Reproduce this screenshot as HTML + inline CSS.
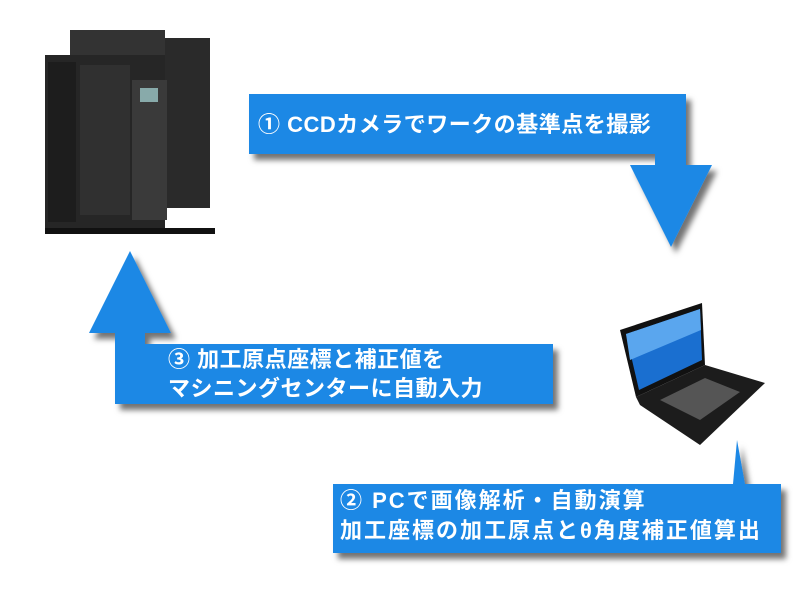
<!DOCTYPE html>
<html><head><meta charset="utf-8"><style>
body{margin:0;width:800px;height:600px;background:#fff;overflow:hidden;position:relative;font-family:"Liberation Sans","Noto Sans CJK JP",sans-serif}
.t{position:absolute;color:#fff;font-weight:bold;font-size:22px;line-height:29px;white-space:nowrap}
svg{position:absolute;left:0;top:0}
</style></head><body>
<svg width="800" height="600">
<defs><filter id="sh" x="-10%" y="-10%" width="130%" height="140%"><feDropShadow dx="5" dy="6" stdDeviation="3" flood-color="#000" flood-opacity="0.55"/></filter></defs>
<g fill="#1e88e5" filter="url(#sh)">
<polygon points="249,94 686,94 686,165 712,165 671,247 630,165 655,165 655,154 249,154"/>
<polygon points="553,344 553,404 115,404 115,333 89,333 130,251 171,333 145,333 145,344"/>
<polygon points="333,484 733,484 737,440 745,484 781,484 781,553 333,553"/>
</g>
<g>
<rect x="160" y="38" width="50" height="170" fill="#2a2a2a"/>
<rect x="70" y="30" width="95" height="30" fill="#333"/>
<rect x="45" y="55" width="120" height="175" fill="#262626"/>
<rect x="48" y="62" width="28" height="160" fill="#1d1d1d"/>
<rect x="80" y="65" width="50" height="150" fill="#303030"/>
<rect x="132" y="80" width="35" height="140" fill="#3a3a3a"/>
<rect x="140" y="88" width="18" height="14" fill="#8aa"/>
<rect x="45" y="228" width="170" height="6" fill="#111"/>
</g>
<g>
<polygon points="620,330 702,303 705,365 636,397" fill="#111"/>
<polygon points="626,334 700,309 702,360 639,390" fill="#1a6fd0"/>
<polygon points="626,334 700,309 701,330 630,360" fill="#5aa6ee"/>
<polygon points="636,397 705,365 765,383 700,445 640,405" fill="#1c1c1c"/>
<polygon points="660,400 705,378 740,392 700,420" fill="#555"/>
</g>
</svg>
<div class="t" style="left:258px;top:110px;letter-spacing:0.5px">① CCDカメラでワークの基準点を撮影</div>
<div class="t" style="left:168px;top:345px;letter-spacing:0.5px">③ 加工原点座標と補正値を<br>マシニングセンターに自動入力</div>
<div class="t" style="left:340px;top:486px;line-height:30px;letter-spacing:2px">② PCで画像解析・自動演算<br>加工座標の加工原点とθ角度補正値算出</div>
</body></html>
